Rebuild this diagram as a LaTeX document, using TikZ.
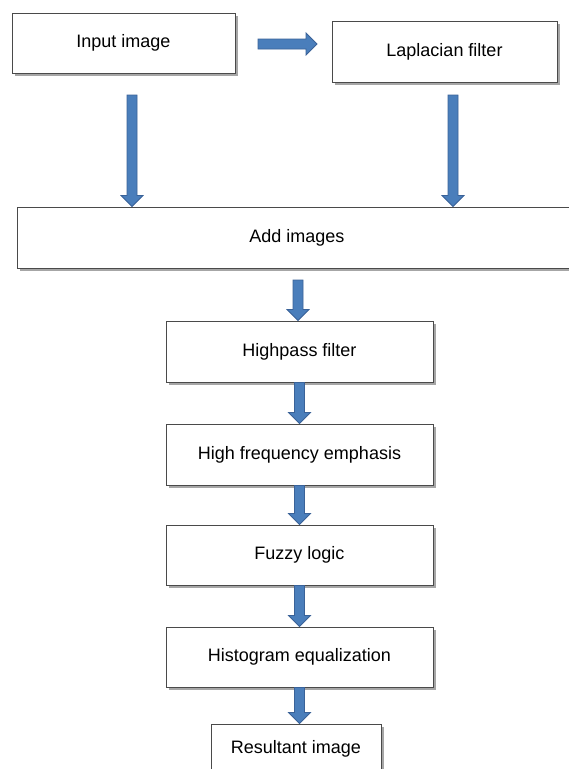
\documentclass[tikz,border=0pt]{standalone}
\usepackage{fontspec}
\setmainfont{Liberation Sans}
\usetikzlibrary{calc,shadows}
\definecolor{arrowfill}{HTML}{4A7EBB}
\definecolor{arrowedge}{HTML}{3A6298}
\definecolor{boxedge}{HTML}{4A4A4A}
\newcommand{\blockdown}[2]{%
  \draw[blockarrow] ($(#1)+(-5,0)$) -- ($(#2)+(-5,-11)$) -- ($(#2)+(-11,-11)$) -- (#2)
    -- ($(#2)+(11,-11)$) -- ($(#2)+(5,-11)$) -- ($(#1)+(5,0)$) -- cycle;}
\newcommand{\blockright}[2]{%
  \draw[blockarrow] ($(#1)+(0,-5)$) -- ($(#2)+(-11,-5)$) -- ($(#2)+(-11,-11)$) -- (#2)
    -- ($(#2)+(-11,11)$) -- ($(#2)+(-11,5)$) -- ($(#1)+(0,5)$) -- cycle;}
\begin{document}
\begin{tikzpicture}[x=1pt,y=-1pt,
  procbox/.style={draw=boxedge, line width=1pt, fill=white, rectangle, inner sep=0pt,
    font=\fontsize{18}{21}\selectfont, text=black,
    drop shadow={shadow xshift=2.5pt, shadow yshift=-2.5pt, opacity=0.35, fill=black}},
  blockarrow/.style={fill=arrowfill, draw=arrowedge, line width=0.8pt, line join=miter}]
\useasboundingbox[fill=white] (0,0) rectangle (569,769);

\node[procbox, minimum width=223pt, minimum height=60pt] (in) at (123.5,43) {Input image};
\node[procbox, minimum width=225pt, minimum height=61pt] (lap) at (444.5,51.5) {Laplacian filter};
\node[procbox, minimum width=560pt, minimum height=61pt] (add) at (297,237.5) {Add images};
\node[procbox, minimum width=267pt, minimum height=61pt] (hp) at (299.5,351.5) {Highpass filter};
\node[procbox, minimum width=267pt, minimum height=61pt] (hf) at (299.5,454.5) {High frequency emphasis};
\node[procbox, minimum width=267pt, minimum height=60pt] (fz) at (299.5,555) {Fuzzy logic};
\node[procbox, minimum width=267pt, minimum height=60pt] (hi) at (299.5,657) {Histogram equalization};
\node[procbox, minimum width=170pt, minimum height=50pt] (rs) at (296,749) {Resultant image};

\coordinate (hs) at (258,44);
\coordinate (ht) at (317,44);
\coordinate (ls) at (132,95);
\coordinate (rsrc) at (453,95);
\coordinate (as) at (298,280);

\blockright{hs}{ht}
\blockdown{ls}{ls |- add.north}
\blockdown{rsrc}{rsrc |- add.north}
\blockdown{as}{as |- hp.north}
\blockdown{hp.south}{hf.north}
\blockdown{hf.south}{fz.north}
\blockdown{fz.south}{hi.north}
\blockdown{hi.south}{hi.south |- rs.north}
\end{tikzpicture}
\end{document}
